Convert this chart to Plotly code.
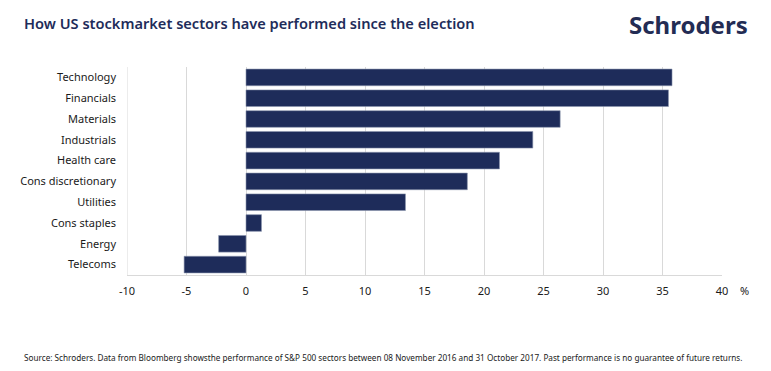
import plotly.graph_objects as go

sectors = ["Technology", "Financials", "Materials", "Industrials", "Health care",
           "Cons discretionary", "Utilities", "Cons staples", "Energy", "Telecoms"]
returns = [35.8, 35.5, 26.4, 24.1, 21.3, 18.6, 13.4, 1.3, -2.3, -5.2]
tick_vals = [-10, -5, 0, 5, 10, 15, 20, 25, 30, 35, 40]
tick_text = [str(v) for v in tick_vals]

navy = "#1e2c5a"
font = "Noto Sans"

fig = go.Figure(go.Bar(
    x=returns, y=sectors, orientation="h",
    marker=dict(color=navy, line=dict(color="#8a93ad", width=0.6)),
))

fig.update_layout(
    width=755, height=355,
    margin=dict(l=119, r=41, t=59, b=88),
    plot_bgcolor="white", paper_bgcolor="white",
    showlegend=False, bargap=0.2,
    font=dict(family=font, color="#1a1a1a", size=11),
    xaxis=dict(range=[-10, 40], tickvals=tick_vals, ticktext=tick_text,
               showgrid=True, gridcolor="#d9d9d9", gridwidth=1,
               zeroline=False, showline=True, linecolor="#d9d9d9",
               mirror=False, ticks="", ticklabelstandoff=6,
               tickfont=dict(size=11, color="#1a1a1a", family=font)),
    yaxis=dict(categoryorder="array", categoryarray=sectors[::-1],
               showgrid=False, zeroline=False, showline=False, ticks="",
               ticklabelstandoff=10,
               tickfont=dict(size=11, color="#1a1a1a", family=font)),
)

fig.add_shape(type="line", xref="x", yref="paper", x0=-10, x1=-10, y0=0, y1=1,
              line=dict(color="#d9d9d9", width=1), layer="below")

fig.add_annotation(text="How US stockmarket sectors have performed since the election",
                   xref="paper", yref="paper", x=-0.1765, y=1.0, xanchor="left", yanchor="middle",
                   yshift=44, showarrow=False,
                   font=dict(family=font, size=14.6, color=navy, weight=600))
fig.add_annotation(text="Schroders", xref="paper", yref="paper", x=1.047, y=1.0,
                   xanchor="right", yanchor="middle", yshift=43, showarrow=False,
                   font=dict(family=font, size=24, color="#232c54", weight=700))
fig.add_annotation(text="%", xref="paper", yref="paper", x=1.037, y=0, xanchor="center",
                   yanchor="top", yshift=-6, showarrow=False,
                   font=dict(family=font, size=11, color="#1a1a1a"))
fig.add_annotation(text="Source: Schroders. Data from Bloomberg showsthe performance of S&P 500 sectors between 08 November 2016 and 31 October 2017. Past performance is no guarantee of future returns.",
                   xref="paper", yref="paper", x=-0.1765, y=0, xanchor="left", yanchor="top",
                   yshift=-75, showarrow=False,
                   font=dict(family=font, size=8.2, color="#1a1a1a"))

fig.write_html("out.html")
